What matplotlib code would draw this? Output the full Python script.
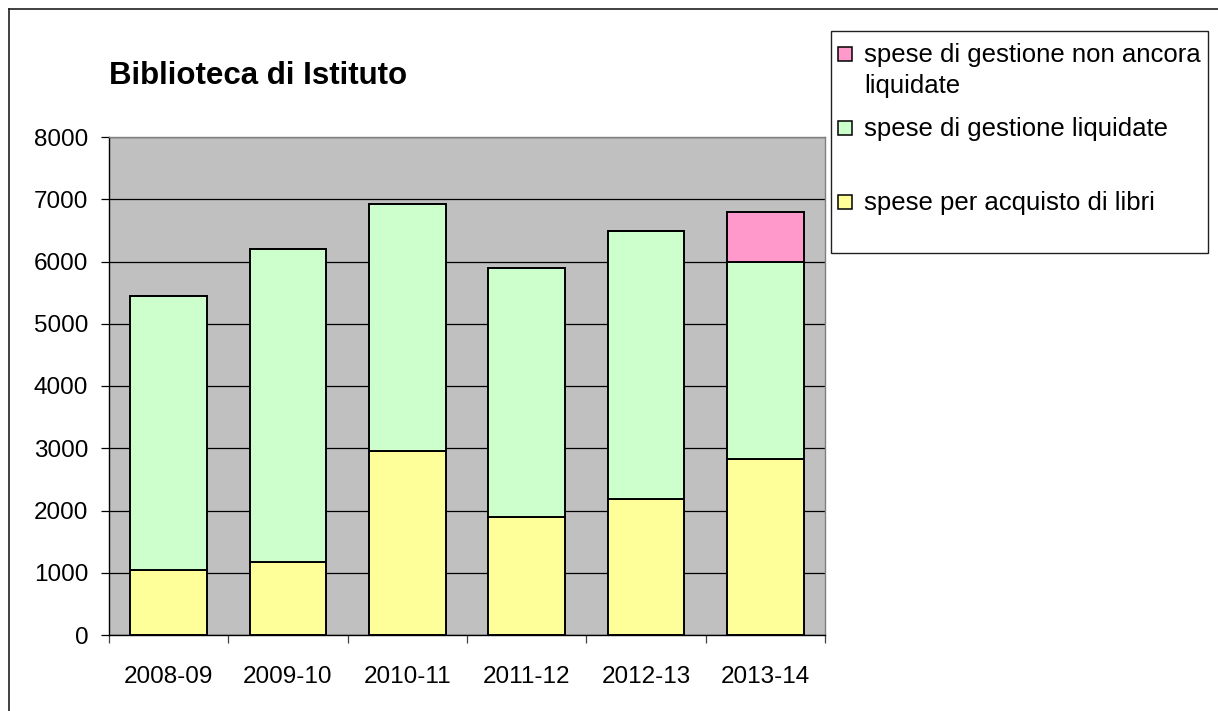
import matplotlib
matplotlib.use("Agg")
import matplotlib.pyplot as plt
from matplotlib.patches import Rectangle
from matplotlib.lines import Line2D

plt.rcParams['font.family'] = ['Liberation Sans', 'DejaVu Sans']

# data
years = ['2008-09', '2009-10', '2010-11', '2011-12', '2012-13', '2013-14']
libri = [1050, 1180, 2950, 1900, 2190, 2830]
gestione_liquidate = [4400, 5020, 3980, 4000, 4295, 3170]
gestione_non_liquidate = [0, 0, 0, 0, 0, 800]

labels = ['spese per acquisto di libri', 'spese di gestione liquidate',
          'spese di gestione non ancora\nliquidate']
colors = ['#FFFF99', '#CCFFCC', '#FF99CC']

W, H = 1218, 711
fig = plt.figure(figsize=(W / 100, H / 100), dpi=100)

def fx(px):
    return px / W

def fy(py):
    return 1 - py / H

# outer chart frame (only left and top visible in the picture)
fig.add_artist(Line2D([fx(9), fx(9)], [fy(9), fy(H + 5)], color='#202020', lw=1.2))
fig.add_artist(Line2D([fx(9), fx(W + 5)], [fy(9), fy(9)], color='#202020', lw=1.2))

ax = fig.add_axes([fx(109), fy(635), fx(825) - fx(109), fy(137) - fy(635)])
ax.set_facecolor('#C0C0C0')

x = list(range(len(years)))
bottom = [0] * len(years)
series = [libri, gestione_liquidate, gestione_non_liquidate]
for vals, col in zip(series, colors):
    ax.bar(x, vals, width=0.64, bottom=bottom, color=col, edgecolor='black',
           linewidth=1.4, zorder=3)
    bottom = [b + v for b, v in zip(bottom, vals)]

ax.set_xlim(-0.5, len(years) - 0.5)
ax.set_ylim(0, 8000)
ax.set_yticks(range(0, 8001, 1000))
ax.yaxis.grid(True, color='black', linewidth=0.9, zorder=1)
ax.set_axisbelow(True)

ax.set_xticks([i - 0.5 for i in range(len(years) + 1)])
ax.set_xticklabels([])
ax.set_xticks(x, minor=True)
ax.set_xticklabels(years, minor=True)
ax.tick_params(axis='x', which='major', length=6, width=0.9, color='#404040')
ax.tick_params(axis='x', which='minor', length=0, pad=22, labelsize=17.5)
ax.tick_params(axis='y', length=6, width=0.9, pad=9, labelsize=17.5)

ax.spines['left'].set_color('black')
ax.spines['bottom'].set_color('black')
ax.spines['top'].set_color('#808080')
ax.spines['right'].set_color('#808080')
for s in ax.spines.values():
    s.set_linewidth(1.0)

fig.text(fx(109), fy(76), 'Biblioteca di Istituto', fontsize=22.5,
         fontweight='bold', ha='left', va='center')

# legend box drawn by hand to keep the uneven spacing of the original
fig.add_artist(Rectangle((fx(831), fy(253)), fx(1208) - fx(831), fy(31) - fy(253),
                         facecolor='white', edgecolor='#202020', lw=1.0))
legend_rows = [(labels[2], colors[2], 54), (labels[1], colors[1], 128),
               (labels[0], colors[0], 202)]
for text, col, yc in legend_rows:
    fig.add_artist(Rectangle((fx(838), fy(yc + 7)), fx(14), 14 / H,
                             facecolor=col, edgecolor='black', lw=1.1))
    for k, line in enumerate(text.split('\n')):
        fig.text(fx(864), fy(yc + 8 + 31 * k), line, fontsize=18.5,
                 ha='left', va='baseline')

fig.savefig('out.png', dpi=100)
